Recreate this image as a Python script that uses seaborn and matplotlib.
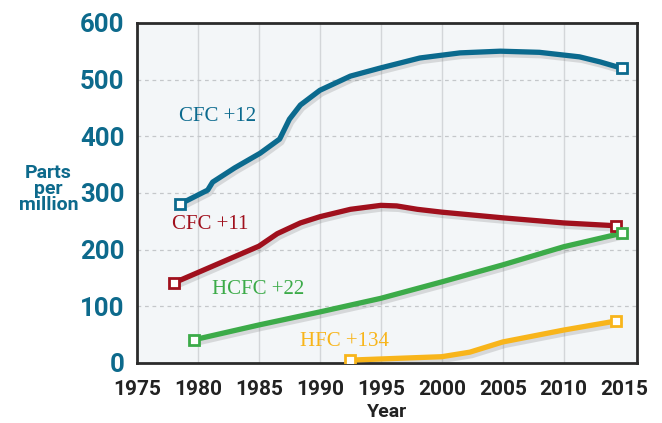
import pandas as pd
import seaborn as sns
import matplotlib.pyplot as plt
import matplotlib.patheffects as pe

# datos (ppm)
cfc12_years = [1978.5, 1980.8, 1981.2, 1983, 1985.1, 1986.7, 1987.5, 1988.4, 1990, 1992.5,
               1994.9, 1998.2, 2001.5, 2004.8, 2008, 2011.3, 2013, 2014.75]
cfc12_vals = [280, 305, 319, 344, 370, 395, 430, 455, 481, 506,
              520, 538, 547, 550, 548, 540, 531, 520]

cfc11_years = [1978, 1985, 1986.5, 1988.4, 1990, 1992.5, 1995, 1996.3, 1998, 2000, 2005, 2010, 2014.3]
cfc11_vals = [141, 206, 228, 247, 258, 271, 278, 277, 271, 266, 256, 247, 242]

hcfc22_years = [1979.7, 1985, 1990, 1995, 2000, 2005, 2010, 2014.8]
hcfc22_vals = [41, 67, 90, 114, 143, 173, 205, 229]

hfc134_years = [1992.5, 2000, 2002.3, 2005, 2010, 2014.3]
hfc134_vals = [5, 11, 19, 37, 58, 74]

series_names = ['CFC +12', 'CFC +11', 'HCFC +22', 'HFC +134']
colors = ['#0b6a8e', '#a0101d', '#3cab49', '#f8b51b']
label_pos = [(1981.6, 434), (1981.0, 245), (1984.9, 129), (1992.0, 38)]

year_ticks = [1975, 1980, 1985, 1990, 1995, 2000, 2005, 2010, 2015]
ppm_ticks = [0, 100, 200, 300, 400, 500, 600]

frames = []
for name, yrs, vals in zip(series_names,
                           [cfc12_years, cfc11_years, hcfc22_years, hfc134_years],
                           [cfc12_vals, cfc11_vals, hcfc22_vals, hfc134_vals]):
    frames.append(pd.DataFrame({'Year': yrs, 'ppm': vals, 'gas': name}))
df = pd.concat(frames, ignore_index=True)
ends = df.groupby('gas', sort=False).nth([0, -1])

sns.set_theme(style='white')
plt.rcParams['font.family'] = ['Roboto', 'DejaVu Sans']

fig = plt.figure(figsize=(6.62, 4.23), dpi=100)
ax = fig.add_axes([0.207, 0.142, 0.755, 0.804])
ax.set_facecolor('#f3f6f8')

# rejilla
for x in year_ticks[1:-1]:
    ax.axvline(x, color='#d3d6d9', lw=1, zorder=0)
for y in ppm_ticks[1:-1]:
    ax.axhline(y, color='#c4c7ca', lw=0.9, ls=(0, (3, 3)), zorder=0)

palette = dict(zip(series_names, colors))
sns.lineplot(data=df, x='Year', y='ppm', hue='gas', palette=palette, sort=False,
             estimator=None, linewidth=3.8, legend=False, ax=ax, zorder=3)
for line in ax.lines[-4:]:
    line.set_solid_capstyle('round')
    line.set_solid_joinstyle('round')
    line.set_path_effects([pe.SimpleLineShadow(offset=(1.5, -2.5), shadow_color='#555', alpha=0.18),
                           pe.Normal()])

for name, c in zip(series_names, colors):
    e = ends[ends['gas'] == name]
    ax.plot(e['Year'], e['ppm'], ls='none', marker='s', ms=7.5, mfc='white',
            mec=c, mew=2, zorder=5)

for name, c, (lx, ly) in zip(series_names, colors, label_pos):
    ax.text(lx, ly, name, color=c, fontsize=15, family=['Liberation Serif'],
            ha='center', va='center')

ax.set_xlim(1975, 2016)
ax.set_ylim(0, 600)
ax.set_xticks(year_ticks)
ax.set_yticks(ppm_ticks)
ax.tick_params(axis='x', length=0, pad=12, labelsize=15, labelcolor='#222222')
ax.tick_params(axis='y', length=0, pad=9, labelsize=18.5, labelcolor='#0d6a8c')
for lab in ax.get_xticklabels() + ax.get_yticklabels():
    lab.set_fontweight('bold')

for s in ax.spines.values():
    s.set_color('#2b2b2b')
    s.set_linewidth(2)

ax.set_xlabel('Year', fontsize=14, fontweight='bold', color='#222222', labelpad=3)
ax.set_ylabel('')
fig.text(0.073, 0.553, 'Parts\nper\nmillion', color='#0d6a8c', fontsize=14,
         fontweight='bold', ha='center', va='center', linespacing=0.85)

fig.savefig('out.png', dpi=100)
